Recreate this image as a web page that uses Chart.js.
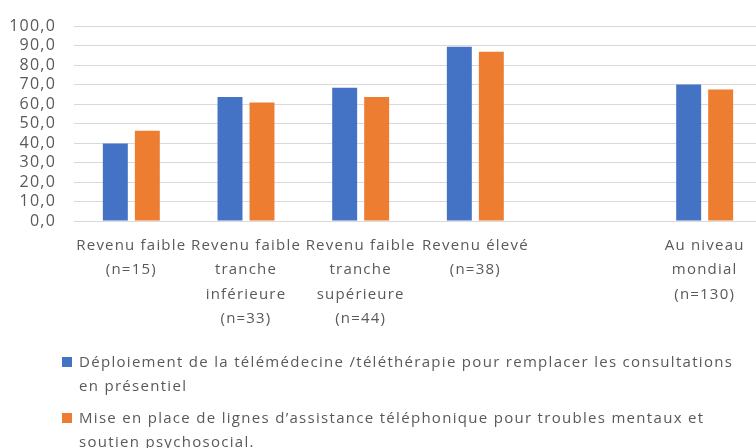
<!DOCTYPE html>
<html>
<head>
<meta charset="utf-8">
<script src="https://cdn.jsdelivr.net/npm/chart.js@4"></script>
<style>
  html, body { margin: 0; padding: 0; background: #fff; overflow: hidden; width: 756px; height: 448px; }
  #wrap { position: relative; width: 756px; height: 448px; overflow: hidden; }
  canvas { position: absolute; left: 0; top: 0; }
  .leg { position: absolute; left: 0; font-family: "Open Sans", sans-serif; font-size: 15px; letter-spacing: 1.3px; color: #595959; }
  .leg .sw { position: absolute; left: 62px; width: 10px; height: 10px; }
  .leg .ln { position: absolute; left: 79px; white-space: nowrap; line-height: 24px; }
</style>
</head>
<body>
<div id="wrap">
  <canvas id="c" width="762" height="448" style="width:762px;height:448px"></canvas>
  <div id="legend"></div>
</div>
<script>
const categories = [
  ["Revenu faible", "(n=15)"],
  ["Revenu faible", "tranche", "inférieure", "(n=33)"],
  ["Revenu faible", "tranche", "supérieure", "(n=44)"],
  ["Revenu élevé", "(n=38)"],
  "",
  ["Au niveau", "mondial", "(n=130)"]
];
const seriesNames = [
  ["Déploiement de la télémédecine /téléthérapie pour remplacer les consultations", "en présentiel"],
  ["Mise en place de lignes d’assistance téléphonique pour troubles mentaux et", "soutien psychosocial."]
];
const telemedecine = [39.7, 63.6, 68.3, 89.4, null, 70.0];
const assistance = [46.3, 60.8, 63.6, 86.8, null, 67.5];
const yTickLabels = ["0,0", "10,0", "20,0", "30,0", "40,0", "50,0", "60,0", "70,0", "80,0", "90,0", "100,0"];
const colors = ["#4472C4", "#ED7D31"];

const letterSpacingPlugin = {
  id: 'letterSpacing',
  beforeLayout(chart) { chart.ctx.letterSpacing = '1.2px'; },
  beforeDraw(chart) { chart.ctx.letterSpacing = '1.2px'; }
};

const chart = new Chart(document.getElementById('c'), {
  type: 'bar',
  data: {
    labels: categories,
    datasets: [
      { label: seriesNames[0].join(' '), data: telemedecine, backgroundColor: colors[0], borderWidth: 0,
        categoryPercentage: 0.558, barPercentage: 0.78 },
      { label: seriesNames[1].join(' '), data: assistance, backgroundColor: colors[1], borderWidth: 0,
        categoryPercentage: 0.558, barPercentage: 0.78 }
    ]
  },
  plugins: [letterSpacingPlugin],
  options: {
    responsive: false,
    animation: false,
    devicePixelRatio: 1,
    layout: { padding: { top: 23, left: 0, right: 0, bottom: 0 } },
    plugins: { legend: { display: false }, tooltip: { enabled: false }, title: { display: false } },
    scales: {
      x: {
        grid: { display: false, drawTicks: false },
        border: { display: false },
        ticks: {
          autoSkip: false, maxRotation: 0, minRotation: 0, padding: 12,
          color: '#595959',
          font: { family: 'Open Sans', size: 15, lineHeight: '24.5px' }
        },
        afterFit: (s) => { s.height = 448 - 221; }
      },
      y: {
        min: 0, max: 100,
        grid: { color: '#d9d9d9', lineWidth: 1, drawTicks: false },
        border: { display: false },
        ticks: {
          stepSize: 10, padding: 18, color: '#595959', autoSkip: false,
          font: { family: 'Open Sans', size: 16, lineHeight: 1 },
          callback: (v, i) => yTickLabels[i]
        },
        afterFit: (s) => { s.width = 74; }
      }
    }
  }
});

// HTML legend built from series names and colours
const legend = document.getElementById('legend');
const tops = [349, 405];
seriesNames.forEach((lines, i) => {
  const item = document.createElement('div');
  item.className = 'leg';
  item.style.top = tops[i] + 'px';
  const sw = document.createElement('div');
  sw.className = 'sw';
  sw.style.background = colors[i];
  sw.style.top = '8px';
  item.appendChild(sw);
  lines.forEach((t, j) => {
    const ln = document.createElement('div');
    ln.className = 'ln';
    ln.style.top = (j * 24) + 'px';
    ln.textContent = t;
    item.appendChild(ln);
  });
  legend.appendChild(item);
});
</script>
</body>
</html>
